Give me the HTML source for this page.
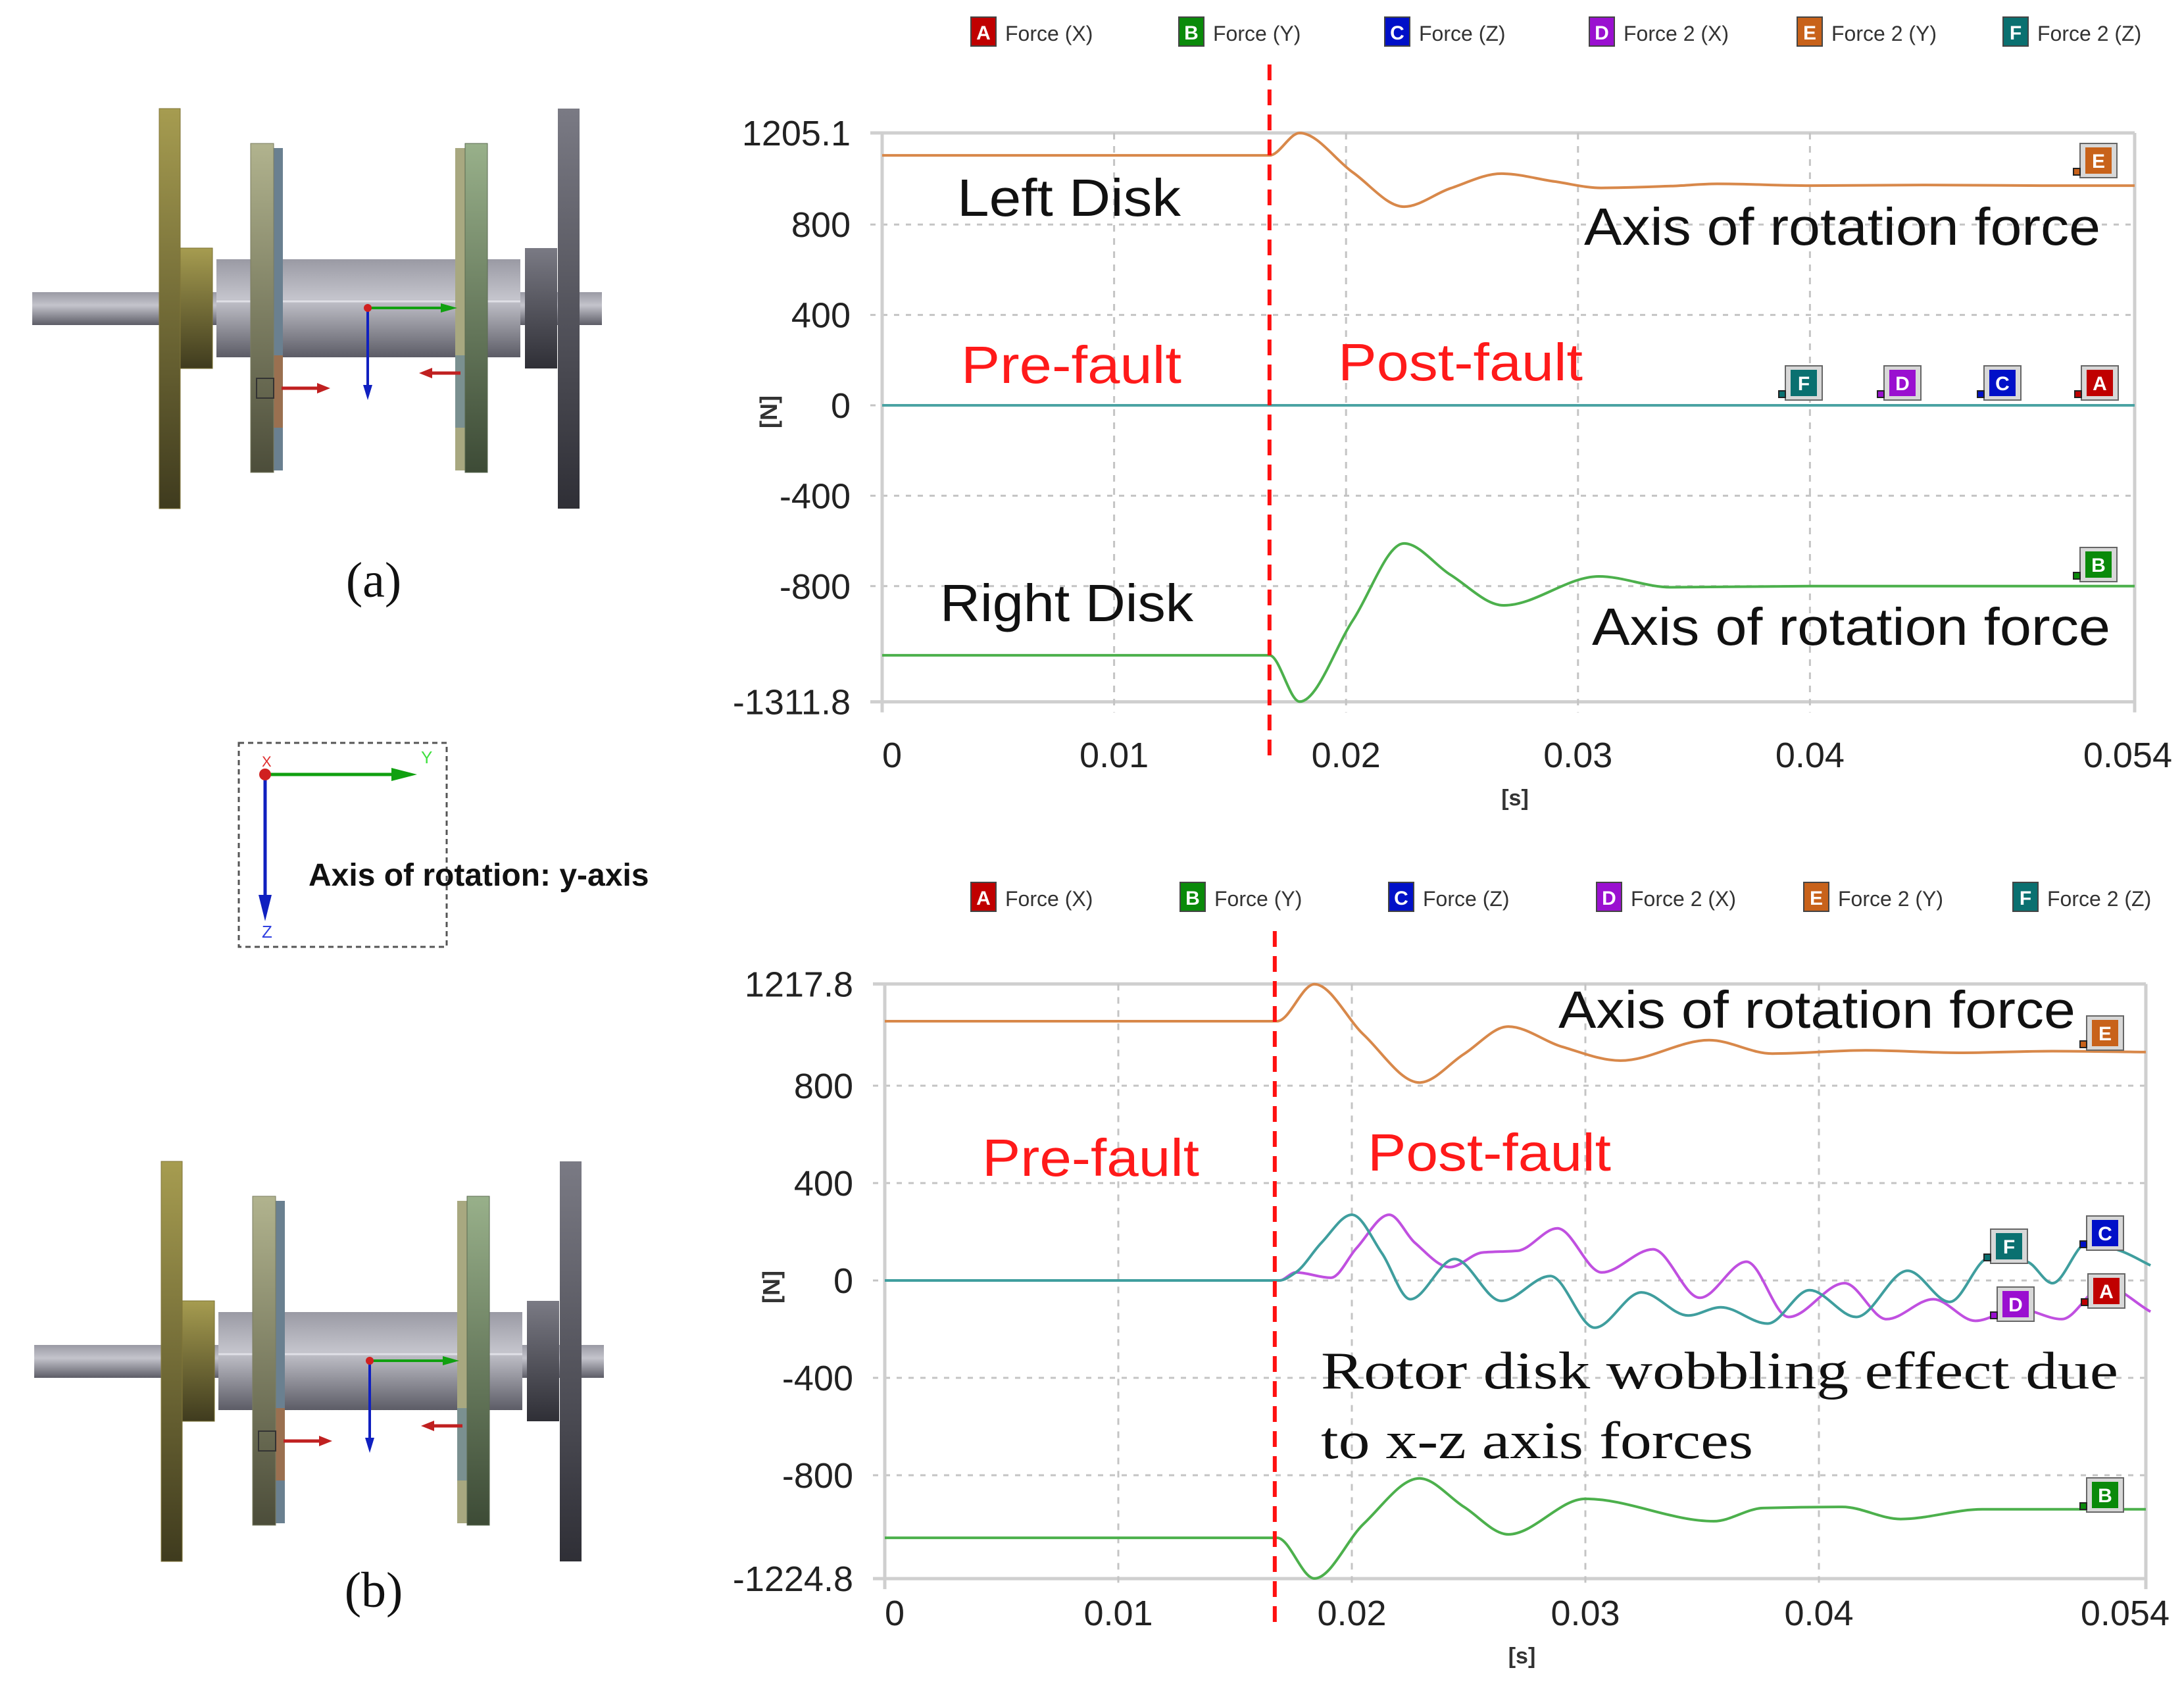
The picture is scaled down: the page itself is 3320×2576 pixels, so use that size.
<!DOCTYPE html>
<html><head><meta charset="utf-8"><style>
html,body{margin:0;padding:0;background:#fff}
svg{display:block}
.tk{font-family:"Liberation Sans",sans-serif;font-size:54px;fill:#222}
.lg{font-family:"Liberation Sans Narrow","Liberation Sans",sans-serif;font-size:32px;fill:#333}
.ann{font-family:"Liberation Sans Narrow","Liberation Sans",sans-serif;font-size:80px;fill:#111}
.red{fill:#ff1a1a}
.srf{font-family:"Liberation Serif",serif;font-size:80px;fill:#111}
.bx{font-family:"Liberation Sans",sans-serif;font-size:30px;fill:#fff;font-weight:bold}
</style></head><body>
<svg id="root" width="3320" height="2576" viewBox="0 0 3320 2576" xmlns="http://www.w3.org/2000/svg">
<defs>
<linearGradient id="olive" x1="0" y1="0" x2="0" y2="1"><stop offset="0" stop-color="#a69c50"/><stop offset="1" stop-color="#3f3b1e"/></linearGradient>
<linearGradient id="sage" x1="0" y1="0" x2="0" y2="1"><stop offset="0" stop-color="#b1b38e"/><stop offset="1" stop-color="#4c4d3a"/></linearGradient>
<linearGradient id="green2" x1="0" y1="0" x2="0" y2="1"><stop offset="0" stop-color="#98b08a"/><stop offset="1" stop-color="#3d4b36"/></linearGradient>
<linearGradient id="grey" x1="0" y1="0" x2="0" y2="1"><stop offset="0" stop-color="#7a7a84"/><stop offset="1" stop-color="#2f2f36"/></linearGradient>
<linearGradient id="cyl" x1="0" y1="0" x2="0" y2="1"><stop offset="0" stop-color="#9a9aa4"/><stop offset="0.4" stop-color="#c4c4cc"/><stop offset="1" stop-color="#5c5c66"/></linearGradient>
</defs>
<g id="rotors"></g>
<g>
<rect x="363" y="1129" width="316" height="310" fill="none" stroke="#555" stroke-width="3" stroke-dasharray="8,6"/>
<line x1="403" y1="1177" x2="620" y2="1177" stroke="#10a010" stroke-width="5"/>
<polygon points="634,1177 595,1167 595,1187" fill="#10a010"/>
<line x1="403" y1="1177" x2="403" y2="1380" stroke="#1020c0" stroke-width="5"/>
<polygon points="403,1400 393,1360 413,1360" fill="#1020c0"/>
<circle cx="403" cy="1177" r="9" fill="#d02020"/>
<text x="640" y="1160" font-family="Liberation Sans" font-size="26" fill="#40e040">Y</text>
<text x="398" y="1165" font-family="Liberation Sans" font-size="22" fill="#e03030">X</text>
<text x="398" y="1425" font-family="Liberation Sans" font-size="26" fill="#3040e0">Z</text>
<text x="469" y="1346" font-family="Liberation Sans" font-size="48" font-weight="bold" fill="#111">Axis of rotation: y-axis</text>
</g>
<text x="568" y="907" text-anchor="middle" font-family="Liberation Serif" font-size="76" fill="#111">(a)</text>
<text x="568" y="2442" text-anchor="middle" font-family="Liberation Serif" font-size="76" fill="#111">(b)</text>
<g id="chartTop"></g>
<g id="chartBot"></g>
</svg>
<script>
// ---------- data: top chart ----------
const xTickValues = [0, 0.01, 0.02, 0.03, 0.04, 0.054];
const xTickLabels = ["0", "0.01", "0.02", "0.03", "0.04", "0.054"];
const topYTicks = [1205.1, 800, 400, 0, -400, -800, -1311.8];
const topYLabels = ["1205.1", "800", "400", "0", "-400", "-800", "-1311.8"];
const topETimes = [0, 0.008, 0.0167, 0.018, 0.0203, 0.0225, 0.0245, 0.0267, 0.029, 0.031, 0.034, 0.036, 0.04, 0.045, 0.05, 0.054];
const topEValues = [1106, 1106, 1106, 1205, 1030, 879, 960, 1025, 990, 962, 970, 980, 972, 975, 972, 972];
const topBTimes = [0, 0.008, 0.0167, 0.018, 0.0203, 0.0225, 0.0245, 0.0268, 0.0309, 0.034, 0.04, 0.047, 0.054];
const topBValues = [-1106, -1106, -1106, -1311, -950, -611, -750, -885, -757, -805, -800, -800, -800];
const topZeroTimes = [0, 0.054];
const topZeroValues = [0, 0];
// ---------- data: bottom chart ----------
const botYTicks = [1217.8, 800, 400, 0, -400, -800, -1224.8];
const botYLabels = ["1217.8", "800", "400", "0", "-400", "-800", "-1224.8"];
const botETimes = [0, 0.008, 0.0168, 0.0184, 0.0205, 0.0229, 0.0248, 0.0267, 0.029, 0.0315, 0.0353, 0.038, 0.042, 0.046, 0.05, 0.054];
const botEValues = [1065, 1065, 1065, 1217, 1010, 813, 930, 1043, 960, 903, 987, 932, 945, 935, 942, 938];
const botBTimes = [0, 0.008, 0.0168, 0.0184, 0.0205, 0.0229, 0.0248, 0.0267, 0.03, 0.0355, 0.0376, 0.041, 0.0435, 0.047, 0.054];
const botBValues = [-1057, -1057, -1057, -1224, -1000, -813, -930, -1043, -897, -989, -935, -930, -980, -940, -940];
const botDTimes = [0, 0.008, 0.0169, 0.0176, 0.0191, 0.0202, 0.0216, 0.0227, 0.0242, 0.0256, 0.0271, 0.0288, 0.0307, 0.0329, 0.0349, 0.0369, 0.0387, 0.0411, 0.0429, 0.0449, 0.0467, 0.0485, 0.0504, 0.0522, 0.0542];
const botDValues = [0, 0, 0, 33, 11, 133, 270, 155, 55, 115, 122, 214, 33, 128, -71, 77, -150, -11, -159, -77, -166, -115, -159, -22, -128];
const botFTimes = [0, 0.008, 0.0169, 0.0176, 0.0187, 0.02, 0.0213, 0.0225, 0.0244, 0.0264, 0.0285, 0.0304, 0.0324, 0.0344, 0.0358, 0.0378, 0.0396, 0.0416, 0.0438, 0.0456, 0.0473, 0.0489, 0.05, 0.0515, 0.0529, 0.0542];
const botFValues = [0, 0, 0, 33, 155, 270, 110, -77, 88, -84, 18, -194, -49, -144, -110, -177, -40, -150, 40, -88, 93, 77, -11, 155, 122, 62];

const NS = "http://www.w3.org/2000/svg";
function mk(tag, attrs, parent) {
  const e = document.createElementNS(NS, tag);
  for (const k in attrs) e.setAttribute(k, attrs[k]);
  if (parent) parent.appendChild(e);
  return e;
}
// monotone cubic (Fritsch-Carlson) path
function monoPath(pts) {
  const n = pts.length;
  if (n < 3) return "M" + pts.map(p => p[0].toFixed(1) + "," + p[1].toFixed(1)).join(" L");
  const dx = [], dy = [], m = [];
  for (let i = 0; i < n - 1; i++) { dx.push(pts[i+1][0] - pts[i][0]); dy.push(pts[i+1][1] - pts[i][1]); m.push(dy[i] / dx[i]); }
  const t = [m[0]];
  for (let i = 1; i < n - 1; i++) {
    if (m[i-1] * m[i] <= 0) t.push(0);
    else { const w1 = 2*dx[i] + dx[i-1], w2 = dx[i] + 2*dx[i-1]; t.push((w1 + w2) / (w1 / m[i-1] + w2 / m[i])); }
  }
  t.push(m[n-2]);
  let d = "M" + pts[0][0].toFixed(1) + "," + pts[0][1].toFixed(1);
  for (let i = 0; i < n - 1; i++) {
    const h = dx[i] / 3;
    d += " C" + (pts[i][0] + h).toFixed(1) + "," + (pts[i][1] + t[i]*h).toFixed(1) + " " +
         (pts[i+1][0] - h).toFixed(1) + "," + (pts[i+1][1] - t[i+1]*h).toFixed(1) + " " +
         pts[i+1][0].toFixed(1) + "," + pts[i+1][1].toFixed(1);
  }
  return d;
}
const legendNames = ["Force (X)", "Force (Y)", "Force (Z)", "Force 2 (X)", "Force 2 (Y)", "Force 2 (Z)"];
const legendLetters = ["A", "B", "C", "D", "E", "F"];
const boxColors = ["#c00000", "#0a8a0a", "#0010c8", "#9a10d0", "#c8621a", "#0a7070"];

function drawChart(g, cfg) {
  const xs = v => cfg.x0 + (v - 0) / 0.054 * (cfg.x1 - cfg.x0);
  const ys = v => cfg.yZero - v * cfg.k;
  const yTop = ys(cfg.yTicks[0]), yBot = ys(cfg.yTicks[cfg.yTicks.length - 1]);
  cfg.legendX.forEach((lx, i) => {
    const lg = mk("g", {}, g);
    
    
    mk("rect", { x: lx, y: cfg.legendY - 24, width: 38, height: 44, fill: boxColors[i], stroke: "#444", "stroke-width": 2 }, lg);
    const bt = mk("text", { x: lx + 19, y: cfg.legendY + 10, "text-anchor": "middle", class: "bx" }, lg);
    bt.textContent = legendLetters[i];
    const tt = mk("text", { x: lx + 52, y: cfg.legendY + 12, class: "lg" }, lg);
    tt.textContent = legendNames[i];
  });
  cfg.yTicks.forEach((v, i) => {
    const y = ys(v);
    const edge = (i === 0 || i === cfg.yTicks.length - 1);
    const ln = mk("line", { x1: cfg.x0 - 18, y1: y, x2: cfg.x1, y2: y, stroke: edge ? "#cfcfcf" : "#c4c4c4", "stroke-width": edge ? 5 : 3, "stroke-dasharray": edge ? "none" : "8,10" }, g);
    
    
    const t = mk("text", { x: cfg.x0 - 48, y: y + 19, "text-anchor": "end", class: "tk" }, g);
    
    
    t.textContent = cfg.yLabels[i];
  });
  xTickValues.forEach((v, i) => {
    const x = xs(v);
    const edge = (i === 0 || i === xTickValues.length - 1);
    const ln = mk("line", { x1: x, y1: yTop, x2: x, y2: yBot + 16, stroke: edge ? "#cfcfcf" : "#c4c4c4", "stroke-width": edge ? 5 : 3, "stroke-dasharray": edge ? "none" : "10,10" }, g);
    
    
    const last = i === xTickValues.length - 1;
    const t = mk("text", { x: last ? cfg.lastLabelEnd : x, y: cfg.xLabelY, "text-anchor": i === 0 ? "start" : (last ? "end" : "middle"), class: "tk" }, g);
    
    
    t.textContent = xTickLabels[i];
  });
  const xt = mk("text", { x: (cfg.x0 + cfg.x1) / 2 + 10, y: cfg.xLabelY + 58, "text-anchor": "middle", "font-family": "Liberation Sans", "font-size": 34, "font-weight": "bold", fill: "#333" }, g);
  
  
  xt.textContent = "[s]";
  const yt = mk("text", { x: cfg.x0 - 170, y: cfg.yZero, "text-anchor": "middle", "font-family": "Liberation Sans", "font-size": 36, "font-weight": "bold", fill: "#333", transform: "rotate(-90 " + (cfg.x0 - 160) + " " + cfg.yZero + ")" }, g);
  
  
  yt.textContent = "[N]";
  cfg.series.forEach(s => {
    const pts = s.t.map((tv, i) => [xs(tv), ys(s.v[i])]);
    const p = mk("path", { d: monoPath(pts), fill: "none", stroke: s.color, "stroke-width": 4 }, g);
    
    
  });
  const fx = xs(0.0167);
  const fl = mk("line", { x1: fx, y1: cfg.faultY0, x2: fx, y2: cfg.faultY1, stroke: "#ff1010", "stroke-width": 6, "stroke-dasharray": "24,14" }, g);
  
  
  cfg.markers.forEach(m => {
    const mg = mk("g", {}, g);
    
    
    mk("rect", { x: m[1] - 4, y: m[2] - 4, width: 56, height: 52, fill: "#d8d8d8", stroke: "#666", "stroke-width": 2 }, mg);
    mk("rect", { x: m[1] + 4, y: m[2] + 2, width: 40, height: 40, fill: boxColors[m[0]] }, mg);
    mk("rect", { x: m[1] - 14, y: m[2] + 34, width: 10, height: 10, fill: boxColors[m[0]], stroke: "#222", "stroke-width": 2 }, mg);
    const t = mk("text", { x: m[1] + 24, y: m[2] + 33, "text-anchor": "middle", class: "bx" }, mg);
    t.textContent = legendLetters[m[0]];
  });
  cfg.notes.forEach(n => {
    const t = mk("text", { x: n.x, y: n.y, class: n.cls, textLength: n.w, lengthAdjust: "spacingAndGlyphs" }, g);
    
    
    t.textContent = n.s;
  });
}

drawChart(document.getElementById("chartTop"), {
  x0: 1341, x1: 3245, yZero: 616, k: 0.3435, yTicks: topYTicks, yLabels: topYLabels, xLabelY: 1166, lastLabelEnd: 3302,
  legendY: 50, legendX: [1476, 1792, 2105, 2416, 2732, 3045], faultY0: 98, faultY1: 1160,
  series: [
    { name: "force-z-line", t: topZeroTimes, v: topZeroValues, color: "#3a5ad8" },
    { name: "force-2-z-line", t: topZeroTimes, v: topZeroValues, color: "#4aa3a3" },
    { name: "force-2-y-line", t: topETimes, v: topEValues, color: "#d8884a" },
    { name: "force-y-line", t: topBTimes, v: topBValues, color: "#4cb04c" }
  ],
  markers: [[4, 3166, 222], [5, 2718, 560], [3, 2868, 560], [2, 3020, 560], [0, 3168, 560], [1, 3166, 836]],
  notes: [
    { name: "left-disk-label", x: 1455, y: 328, s: "Left Disk", w: 340, cls: "ann" },
    { name: "axis-force-label-top", x: 2408, y: 372, s: "Axis of rotation force", w: 785, cls: "ann" },
    { name: "pre-fault-label", x: 1461, y: 582, s: "Pre-fault", w: 335, cls: "ann red" },
    { name: "post-fault-label", x: 2034, y: 578, s: "Post-fault", w: 372, cls: "ann red" },
    { name: "right-disk-label", x: 1429, y: 944, s: "Right Disk", w: 385, cls: "ann" },
    { name: "axis-force-label-bottom", x: 2420, y: 980, s: "Axis of rotation force", w: 788, cls: "ann" }
  ]
});

drawChart(document.getElementById("chartBot"), {
  x0: 1345, x1: 3262, yZero: 1946, k: 0.37, yTicks: botYTicks, yLabels: botYLabels, xLabelY: 2470, lastLabelEnd: 3298,
  legendY: 1365, legendX: [1476, 1794, 2111, 2427, 2742, 3060], faultY0: 1415, faultY1: 2478,
  series: [
    { name: "force-2-y-line", t: botETimes, v: botEValues, color: "#d8884a" },
    { name: "force-y-line", t: botBTimes, v: botBValues, color: "#4cb04c" },
    { name: "force-2-x-line", t: botDTimes, v: botDValues, color: "#c050e0" },
    { name: "force-2-z-line", t: botFTimes, v: botFValues, color: "#3f9e9e" }
  ],
  markers: [[4, 3176, 1548], [2, 3176, 1852], [5, 3030, 1872], [0, 3178, 1940], [3, 3040, 1960], [1, 3176, 2250]],
  notes: [
    { name: "axis-force-label", x: 2369, y: 1562, s: "Axis of rotation force", w: 786, cls: "ann" },
    { name: "pre-fault-label", x: 1493, y: 1787, s: "Pre-fault", w: 330, cls: "ann red" },
    { name: "post-fault-label", x: 2079, y: 1779, s: "Post-fault", w: 370, cls: "ann red" },
    { name: "wobble-note-line1", x: 2008, y: 2110, s: "Rotor disk wobbling effect due", w: 1212, cls: "srf" },
    { name: "wobble-note-line2", x: 2008, y: 2216, s: "to x-z axis forces", w: 657, cls: "srf" }
  ]
});

function drawRotor(dy, dx, name) {
  const g = mk("g", { transform: "translate(" + dx + "," + dy + ")" }, document.getElementById("rotors"));
  
  
  mk("rect", { x: 49, y: 444, width: 866, height: 50, fill: "url(#cyl)" }, g);
  mk("rect", { x: 329, y: 394, width: 462, height: 149, fill: "url(#cyl)" }, g);
  mk("line", { x1: 329, y1: 458, x2: 791, y2: 458, stroke: "#e0e0e6", "stroke-width": 3 }, g);
  mk("rect", { x: 274, y: 377, width: 49, height: 183, fill: "url(#olive)", stroke: "#7a7030" }, g);
  mk("rect", { x: 242, y: 165, width: 32, height: 608, fill: "url(#olive)", stroke: "#807538" }, g);
  mk("rect", { x: 416, y: 225, width: 14, height: 490, fill: "#6a8090" }, g);
  mk("rect", { x: 416, y: 540, width: 14, height: 110, fill: "#9a7050" }, g);
  mk("rect", { x: 381, y: 218, width: 35, height: 500, fill: "url(#sage)", stroke: "#7a7c60" }, g);
  mk("rect", { x: 692, y: 225, width: 15, height: 490, fill: "#a8a880" }, g);
  mk("rect", { x: 692, y: 540, width: 15, height: 110, fill: "#7a9090" }, g);
  mk("rect", { x: 707, y: 218, width: 34, height: 500, fill: "url(#green2)", stroke: "#5a6a50" }, g);
  mk("rect", { x: 798, y: 377, width: 49, height: 183, fill: "url(#grey)" }, g);
  mk("rect", { x: 848, y: 165, width: 33, height: 608, fill: "url(#grey)" }, g);
  mk("line", { x1: 559, y1: 468, x2: 680, y2: 468, stroke: "#10a010", "stroke-width": 4 }, g);
  mk("polygon", { points: "695,468 670,461 670,475", fill: "#10a010" }, g);
  mk("line", { x1: 559, y1: 468, x2: 559, y2: 595, stroke: "#1020c0", "stroke-width": 4 }, g);
  mk("polygon", { points: "559,608 552,585 566,585", fill: "#1020c0" }, g);
  mk("circle", { cx: 559, cy: 468, r: 6, fill: "#d02020" }, g);
  mk("line", { x1: 428, y1: 590, x2: 490, y2: 590, stroke: "#c02020", "stroke-width": 5 }, g);
  mk("polygon", { points: "502,590 482,582 482,598", fill: "#c02020" }, g);
  mk("line", { x1: 650, y1: 567, x2: 700, y2: 567, stroke: "#c02020", "stroke-width": 5 }, g);
  mk("polygon", { points: "637,567 657,559 657,575", fill: "#c02020" }, g);
  mk("rect", { x: 390, y: 575, width: 26, height: 30, fill: "none", stroke: "#333", "stroke-width": 2 }, g);
}
drawRotor(0, 0, "rotor-diagram-a");
drawRotor(1600, 3, "rotor-diagram-b");
</script>
</body></html>
